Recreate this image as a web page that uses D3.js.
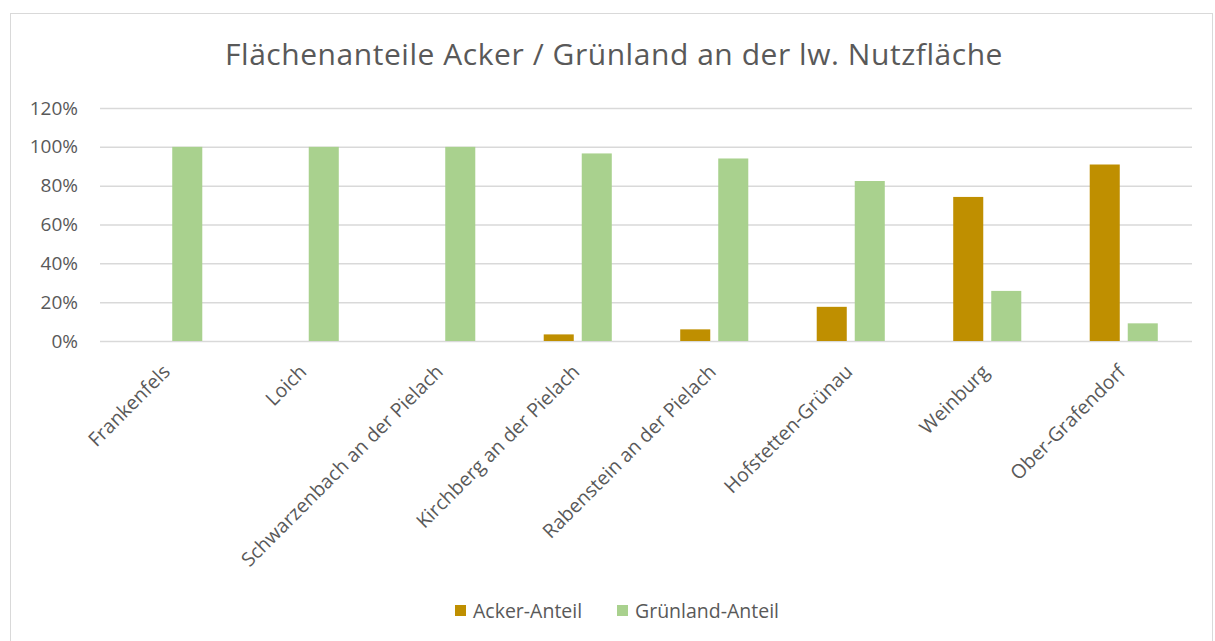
<!DOCTYPE html>
<html><head><meta charset="utf-8">
<script src="https://cdn.jsdelivr.net/npm/d3@7"></script>
<style>body{margin:0;background:#fff;}svg{display:block;}</style>
</head><body>
<svg id="c" width="1215" height="641"></svg>
<script>
const categories = ["Frankenfels","Loich","Schwarzenbach an der Pielach","Kirchberg an der Pielach","Rabenstein an der Pielach","Hofstetten-Grünau","Weinburg","Ober-Grafendorf"];
const ackerAnteil = [0, 0, 0, 3.4, 6.0, 17.6, 74.2, 90.9];
const gruenlandAnteil = [100, 100, 100, 96.6, 94.0, 82.4, 25.8, 9.1];
const seriesNames = ["Acker-Anteil","Grünland-Anteil"];
const yTicks = [0,20,40,60,80,100,120];
const colors = ["#BF8F00","#A9D18E"];
const title = "Flächenanteile Acker / Grünland an der lw. Nutzfläche";

const svg = d3.select("#c");
const font = "'Open Sans', sans-serif";
const textColor = "#595959";

svg.append("rect").attr("x",10.5).attr("y",13.5).attr("width",1202).attr("height",640)
  .attr("fill","#fff").attr("stroke","#d9d9d9").attr("stroke-width",1);

const pLeft=100, pRight=1192, pTop=108, pBottom=341;
const x = d3.scaleBand().domain(categories).range([pLeft,pRight]);
const y = d3.scaleLinear().domain([0,120]).range([pBottom,pTop]);
const x1 = d3.scaleBand().domain(seriesNames).range([0,x.bandwidth()]).paddingInner(0.21).paddingOuter(0.9);

svg.append("text").attr("x",614).attr("y",65).attr("text-anchor","middle")
  .attr("font-family",font).attr("font-size",30).attr("letter-spacing",0.55).attr("fill",textColor).text(title);

const gy = svg.append("g").attr("transform",`translate(${pLeft},0)`)
  .call(d3.axisLeft(y).tickValues(yTicks).tickFormat(d=>d+"%").tickSize(-(pRight-pLeft)).tickPadding(22));
gy.select(".domain").remove();
gy.selectAll(".tick line").attr("stroke","#d9d9d9").attr("stroke-width",1.5);
gy.selectAll(".tick text").attr("font-family",font).attr("font-size",19).attr("fill",textColor);

const data = categories.map((c,i)=>({c, vals:[ackerAnteil[i], gruenlandAnteil[i]]}));
const g = svg.append("g");
data.forEach(d=>{
  d.vals.forEach((v,j)=>{
    if(v<=0) return;
    g.append("rect").attr("x",x(d.c)+x1(seriesNames[j])).attr("width",x1.bandwidth())
      .attr("y",y(v)).attr("height",y(0)-y(v)).attr("fill",colors[j]);
  });
});

const gx = svg.append("g").attr("transform",`translate(0,${pBottom})`)
  .call(d3.axisBottom(x).tickSize(0).tickPadding(0));
gx.select(".domain").remove();
gx.selectAll(".tick text").attr("font-family",font).attr("font-size",19.5).attr("fill",textColor)
  .attr("text-anchor","end").attr("dy",0).attr("transform","translate(3,32) rotate(-45)");

const leg = svg.append("g");
const legX = [455, 617];
seriesNames.forEach((s,j)=>{
  leg.append("rect").attr("x",legX[j]).attr("y",605).attr("width",11).attr("height",11).attr("fill",colors[j]);
  leg.append("text").attr("x",legX[j]+18).attr("y",618).attr("font-family",font).attr("font-size",19.5)
    .attr("fill",textColor).text(s);
});
</script>
</body></html>
